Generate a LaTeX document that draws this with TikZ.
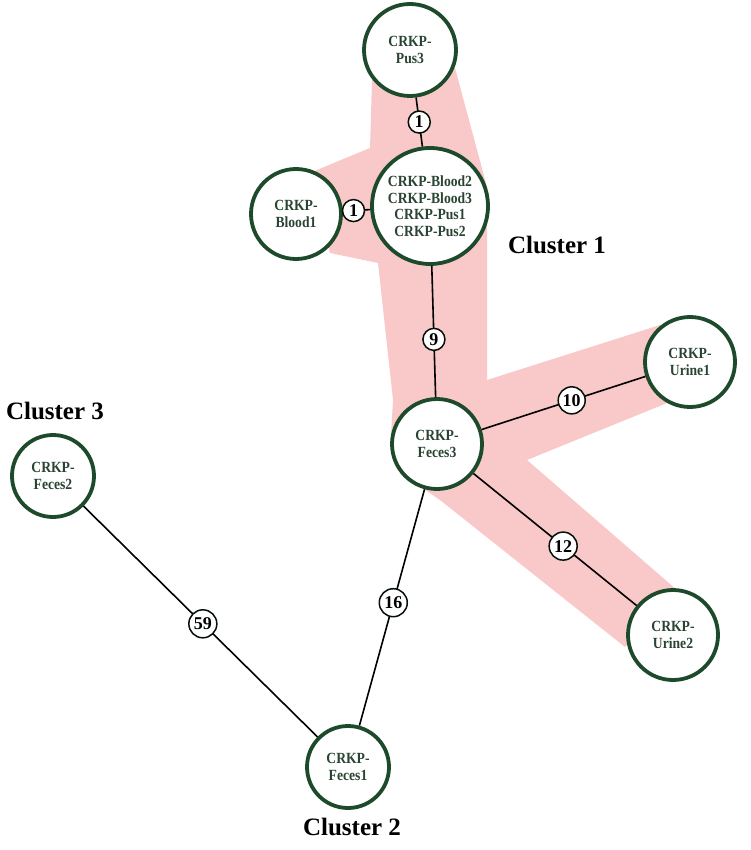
\documentclass[tikz,border=0pt]{standalone}
\usepackage{fontspec}
\setmainfont{Liberation Serif}
\newfontfamily\condfont{Liberation Serif}[FakeStretch=0.88]
\definecolor{nodegreen}{HTML}{1D4A2A}
\definecolor{txtgreen}{HTML}{2A4433}
\definecolor{clpink}{HTML}{F9C8C8}
\begin{document}
\begin{tikzpicture}[x=1pt,y=-1pt,
  strain/.style={circle, draw=nodegreen, line width=3.8pt, fill=white, inner sep=0pt,
    align=center, text=txtgreen, font=\condfont\bfseries\fontsize{15.5}{16.5}\selectfont},
  lab/.style={circle, draw=black!80!nodegreen, line width=1.5pt, fill=white, inner sep=0pt,
    font=\bfseries\fontsize{18}{18}\selectfont},
  edge/.style={draw=black, line width=1.6pt},
  cluster/.style={font=\bfseries\fontsize{25}{25}\selectfont}]
\useasboundingbox (0,0) rectangle (750,850);
% pink cluster 1 region
\fill[clpink] (372,80) -- (455,68) -- (487,187) -- (487,380) -- (660,325) -- (667,403)
  -- (527,460) -- (677,590) -- (625,647) -- (440,500) -- (418,485) -- (400,465)
  -- (391,435) -- (393,400) -- (378,263) -- (330,253) -- (312,172) -- (370,148) -- cycle;
% strain nodes
\node[strain, minimum size=92pt] (pus3) at (410,50) {CRKP-\\Pus3};
\node[strain, minimum size=116pt] (big) at (430,206) {CRKP-Blood2\\CRKP-Blood3\\CRKP-Pus1\\CRKP-Pus2};
\node[strain, minimum size=90pt] (blood1) at (296,214) {CRKP-\\Blood1};
\node[strain, minimum size=90pt] (feces3) at (437,444) {CRKP-\\Feces3};
\node[strain, minimum size=90pt] (urine1) at (690,362) {CRKP-\\Urine1};
\node[strain, minimum size=90pt] (urine2) at (673,635) {CRKP-\\Urine2};
\node[strain, minimum size=82pt] (feces2) at (53,476) {CRKP-\\Feces2};
\node[strain, minimum size=82pt] (feces1) at (348,767) {CRKP-\\Feces1};
% edges with distance labels
\draw[edge] (pus3) -- node[lab, minimum size=22pt, pos=0.5] (l1) {1} (big);
\draw[edge] (blood1) -- node[lab, minimum size=22pt, pos=0.39] (l2) {1} (big);
\draw[edge] (big) -- node[lab, minimum size=22pt, pos=0.56] (l9) {9} (feces3);
\draw[edge] (feces3) -- node[lab, minimum size=27pt, pos=0.55] (l10) {10} (urine1);
\draw[edge] (feces3) -- node[lab, minimum size=28pt, pos=0.55] (l12) {12} (urine2);
\draw[edge] (feces3) -- node[lab, minimum size=28pt, pos=0.48] (l16) {16} (feces1);
\draw[edge] (feces2) -- node[lab, minimum size=28pt, pos=0.51] (l59) {59} (feces1);
% cluster labels
\node[cluster] (c1) at (557,245) {Cluster 1};
\node[cluster] (c3) at (55,411) {Cluster 3};
\node[cluster] (c2) at (352,827) {Cluster 2};
\end{tikzpicture}
\end{document}
